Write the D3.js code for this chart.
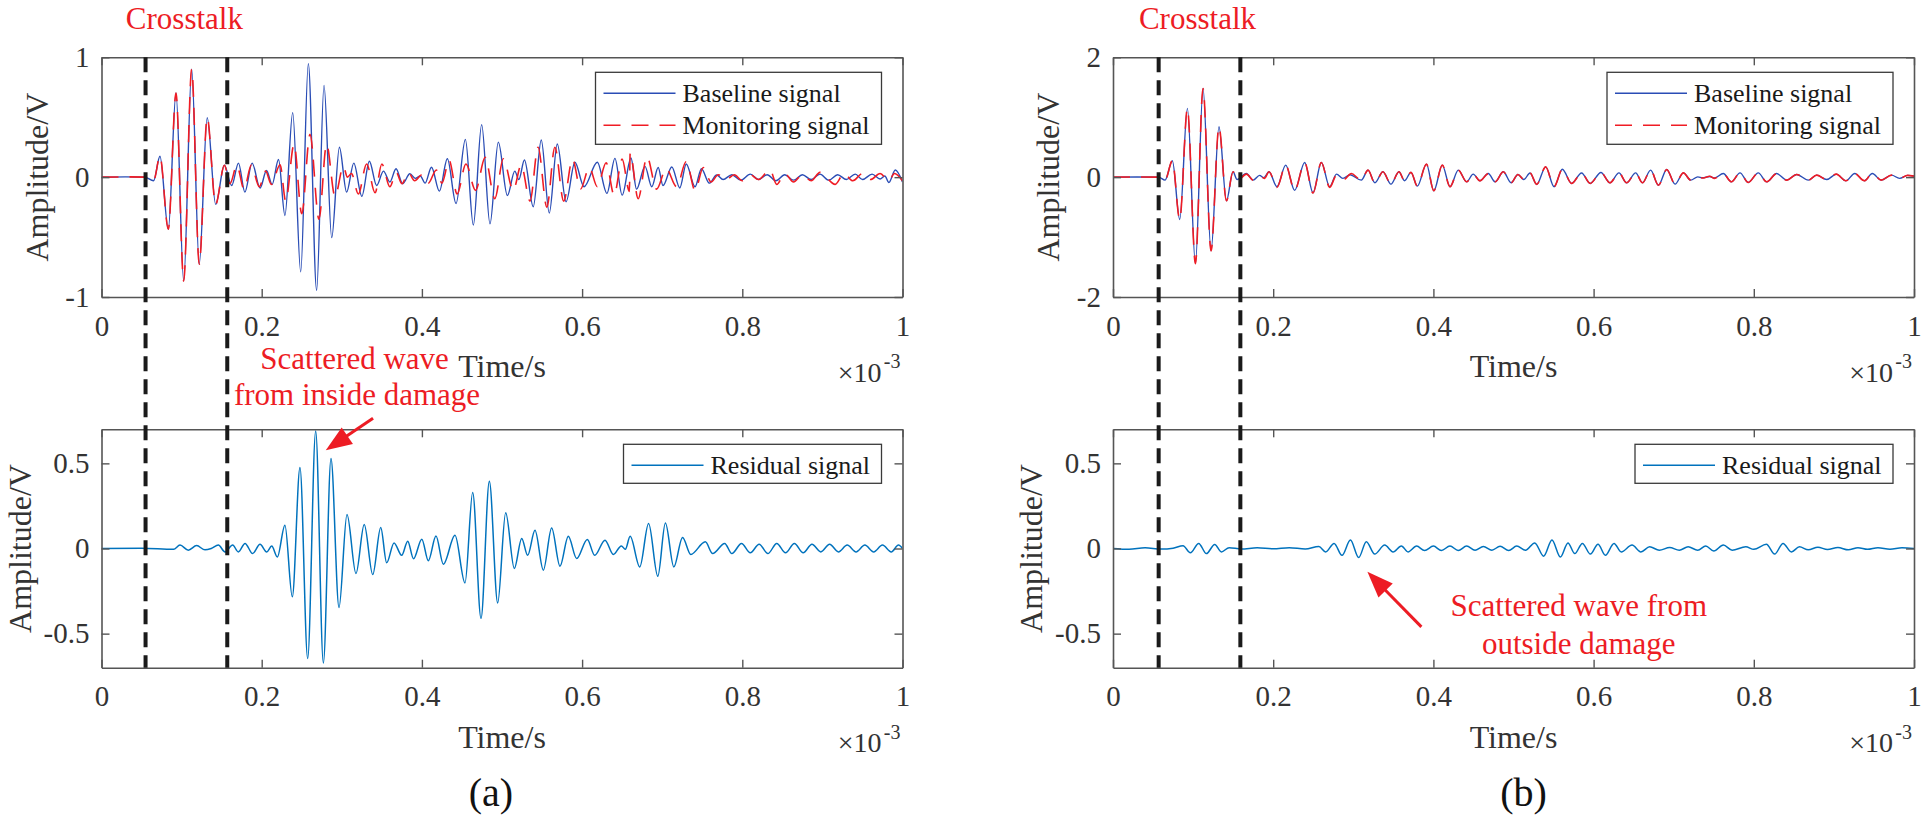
<!DOCTYPE html>
<html>
<head>
<meta charset="utf-8">
<script src="https://cdnjs.cloudflare.com/ajax/libs/d3/7.8.5/d3.min.js"></script>
<style>
html, body { margin: 0; padding: 0; background: #fff; }
svg { display: block; font-family: "Liberation Serif", "Times New Roman", serif; }
</style>
</head>
<body>
<svg id="fig" width="1923" height="817"></svg>
<script>

// time axis is in units of 1e-3 s, values in V (peaks and troughs)
var xTicks = [0, 0.2, 0.4, 0.6, 0.8, 1];
var yTicksA = [-1, 0, 1];
var yTicksB = [-2, 0, 2];
var yTicksRes = [-0.5, 0, 0.5];

var crosstalkA = [0.055, 0.157];
var crosstalkB = [0.057, 0.159];

var baselineA = [[0,0],[0.03,0.002],[0.054,0],[0.065,-0.03],[0.073,0.174],[0.0834,-0.435],[0.093,0.702],[0.1026,-0.867],
	[0.1126,0.90],[0.122,-0.727],[0.132,0.496],[0.1425,-0.227],[0.1534,0.099],[0.1625,-0.07],[0.171,0.117],[0.179,-0.125],
	[0.188,0.117],[0.198,-0.09],[0.206,0.055],[0.213,-0.061],[0.221,0.147],[0.229,-0.32],[0.2387,0.538],[0.2487,-0.79],
	[0.2582,0.947],[0.2686,-0.944],[0.2778,0.766],[0.2874,-0.505],[0.297,0.25],[0.306,-0.125],[0.315,0.117],[0.325,-0.16],
	[0.3344,0.133],[0.3435,-0.07],[0.352,0.05],[0.36,-0.04],[0.3677,0.07],[0.376,-0.055],[0.385,0.028],[0.392,-0.01],
	[0.398,0.01],[0.404,-0.05],[0.412,0.083],[0.4218,-0.117],[0.4318,0.153],[0.4426,-0.22],[0.4543,0.315],[0.4642,-0.40],
	[0.4746,0.438],[0.485,-0.39],[0.4954,0.292],[0.5067,-0.153],[0.516,0.05],[0.521,-0.02],[0.528,0.143],[0.539,-0.247],
	[0.549,0.31],[0.559,-0.30],[0.569,0.277],[0.58,-0.205],[0.591,0.124],[0.6024,-0.08],[0.619,0.124],[0.631,-0.135],
	[0.641,0.157],[0.65,-0.15],[0.661,0.16],[0.668,-0.1],[0.6785,0.09],[0.687,-0.08],[0.695,0.08],[0.701,-0.07],
	[0.712,0.085],[0.722,-0.09],[0.730,0.11],[0.741,-0.08],[0.749,0.07],[0.7588,-0.05],[0.768,0.018],[0.776,-0.02],
	[0.787,0.02],[0.798,-0.025],[0.81,0.025],[0.82,-0.02],[0.831,0.02],[0.842,-0.03],[0.853,0.02],[0.864,-0.025],
	[0.875,0.02],[0.886,-0.02],[0.897,0.025],[0.908,-0.025],[0.919,0.02],[0.93,-0.02],[0.941,0.025],[0.95,-0.02],
	[0.962,0.025],[0.972,-0.015],[0.978,0.01],[0.983,-0.045],[0.991,0.06],[1.0,-0.04]];

var monitorA = [[0,0],[0.03,0.002],[0.054,0],[0.065,-0.03],[0.073,0.174],[0.0834,-0.435],[0.093,0.702],[0.1026,-0.867],
	[0.1126,0.90],[0.122,-0.727],[0.132,0.496],[0.1425,-0.227],[0.1534,0.099],[0.1604,-0.055],[0.169,0.097],[0.178,-0.10],
	[0.187,0.1],[0.197,-0.08],[0.205,0.05],[0.212,-0.06],[0.223,0.103],[0.230,-0.2],[0.2404,0.274],[0.25,-0.305],
	[0.2603,0.357],[0.2715,-0.35],[0.281,0.274],[0.2915,-0.16],[0.302,0.09],[0.307,0.0],[0.312,0.03],[0.3207,-0.14],
	[0.331,0.11],[0.3415,-0.13],[0.35,0.11],[0.36,-0.08],[0.368,0.04],[0.375,-0.055],[0.383,0.04],[0.391,-0.03],
	[0.4,0.02],[0.408,-0.05],[0.418,0.06],[0.425,-0.05],[0.434,0.14],[0.444,-0.14],[0.455,0.11],[0.467,-0.11],
	[0.479,0.165],[0.491,-0.18],[0.5017,0.153],[0.514,-0.11],[0.524,0.1],[0.535,-0.2],[0.545,0.25],[0.556,-0.25],
	[0.566,0.25],[0.577,-0.2],[0.588,0.15],[0.598,-0.1],[0.609,0.08],[0.619,-0.08],[0.63,0.12],[0.64,-0.15],
	[0.65,0.15],[0.659,-0.12],[0.66,0.2],[0.67,-0.18],[0.681,0.17],[0.693,-0.1],[0.705,0.07],[0.718,-0.08],
	[0.73,0.13],[0.741,-0.11],[0.7513,0.08],[0.761,-0.04],[0.77,0.02],[0.78,-0.02],[0.79,0.02],[0.8,-0.03],
	[0.81,0.02],[0.82,-0.02],[0.8346,0.06],[0.843,-0.06],[0.853,0.03],[0.864,-0.04],[0.875,0.02],[0.886,-0.03],
	[0.897,0.04],[0.916,-0.06],[0.927,0.03],[0.938,-0.03],[0.95,0.03],[0.96,-0.02],[0.972,0.03],[0.983,-0.03],
	[0.99,0.03],[1.0,-0.03]];

var residualA = [[0,0],[0.05,0.002],[0.09,-0.005],[0.098,0.02],[0.1084,-0.01],[0.1188,0.017],[0.1292,-0.008],[0.137,0.0],
	[0.1459,0.02],[0.1542,-0.02],[0.1638,0.02],[0.1708,-0.02],[0.1792,0.03],[0.1887,-0.03],[0.1979,0.025],[0.2062,-0.02],
	[0.2125,0.014],[0.2195,-0.05],[0.229,0.137],[0.2382,-0.284],[0.2478,0.476],[0.2574,-0.646],[0.2674,0.69],[0.277,-0.672],
	[0.2865,0.528],[0.2965,-0.347],[0.3065,0.2],[0.3177,-0.147],[0.328,0.141],[0.3386,-0.153],[0.3486,0.123],[0.356,-0.084],
	[0.3652,0.033],[0.3748,-0.04],[0.3823,0.043],[0.3895,-0.06],[0.3999,0.055],[0.408,-0.072],[0.4176,0.074],[0.4268,-0.092],
	[0.4413,0.078],[0.4538,-0.202],[0.4634,0.329],[0.4738,-0.411],[0.4842,0.395],[0.4946,-0.32],[0.5046,0.21],[0.5154,-0.117],
	[0.5246,0.059],[0.532,-0.04],[0.5412,0.107],[0.5516,-0.127],[0.562,0.121],[0.5724,-0.104],[0.5828,0.072],[0.5932,-0.059],
	[0.6065,0.053],[0.6157,-0.04],[0.6286,0.049],[0.639,-0.035],[0.649,0.015],[0.654,-0.005],[0.66,0.072],[0.672,-0.108],
	[0.683,0.147],[0.6945,-0.163],[0.704,0.15],[0.7145,-0.108],[0.7254,0.065],[0.7357,-0.035],[0.7538,0.039],[0.763,-0.03],
	[0.778,0.03],[0.787,-0.03],[0.799,0.03],[0.81,-0.025],[0.821,0.025],[0.832,-0.03],[0.843,0.03],[0.854,-0.025],
	[0.865,0.03],[0.876,-0.025],[0.887,0.025],[0.898,-0.02],[0.909,0.025],[0.92,-0.02],[0.931,0.02],[0.942,-0.02],
	[0.953,0.02],[0.964,-0.02],[0.975,0.02],[0.986,-0.02],[0.995,0.02],[1.0,0.0]];

var baselineB = [[0,0],[0.03,0.003],[0.057,0],[0.065,-0.05],[0.0741,0.273],[0.0833,-0.707],[0.0929,1.147],[0.1029,-1.443],
	[0.1124,1.48],[0.1224,-1.23],[0.1323,0.84],[0.1416,-0.395],[0.1498,0.09],[0.155,-0.04],[0.1665,0.06],[0.175,-0.05],
	[0.183,0.03],[0.188,-0.01],[0.1948,0.09],[0.2047,-0.16],[0.2156,0.2],[0.2268,-0.22],[0.2393,0.245],[0.2497,-0.26],
	[0.2601,0.245],[0.2705,-0.16],[0.279,0.05],[0.287,-0.02],[0.296,0.04],[0.31,-0.05],[0.3184,0.117],[0.327,-0.094],
	[0.337,0.09],[0.347,-0.117],[0.357,0.09],[0.364,-0.06],[0.372,0.08],[0.38,-0.15],[0.3913,0.217],[0.4005,-0.228],
	[0.4111,0.2],[0.4207,-0.16],[0.4311,0.117],[0.4415,-0.078],[0.4497,0.05],[0.458,-0.06],[0.4685,0.06],[0.477,-0.078],
	[0.4873,0.09],[0.497,-0.094],[0.5055,0.045],[0.513,-0.04],[0.5206,0.07],[0.529,-0.12],[0.5402,0.172],[0.5506,-0.16],
	[0.561,0.133],[0.5725,-0.105],[0.585,0.07],[0.5957,-0.105],[0.6092,0.078],[0.6204,-0.094],[0.6317,0.072],[0.6412,-0.094],
	[0.6525,0.072],[0.661,-0.094],[0.6712,0.117],[0.681,-0.134],[0.6913,0.128],[0.7017,-0.117],[0.7121,0.072],[0.7213,-0.05],
	[0.73,0.005],[0.736,-0.01],[0.745,0.01],[0.751,-0.015],[0.7619,0.06],[0.772,-0.078],[0.7828,0.072],[0.793,-0.089],
	[0.8056,0.072],[0.816,-0.078],[0.8285,0.06],[0.841,-0.05],[0.8535,0.045],[0.868,-0.05],[0.8785,0.033],[0.891,-0.04],
	[0.903,0.05],[0.915,-0.06],[0.926,0.06],[0.938,-0.06],[0.948,0.06],[0.959,-0.05],[0.972,0.033],[0.982,-0.02],
	[0.992,0.03],[1.0,0.017]];

var monitorB = [[0,0],[0.03,0.003],[0.057,0],[0.065,-0.05],[0.0741,0.273],[0.0833,-0.707],[0.0929,1.147],[0.1029,-1.443],
	[0.1124,1.48],[0.1224,-1.23],[0.1323,0.84],[0.1416,-0.395],[0.1498,0.09],[0.156,-0.05],[0.1665,0.05],[0.176,-0.06],
	[0.184,0.01],[0.189,-0.02],[0.1948,0.09],[0.2047,-0.17],[0.2156,0.2],[0.2268,-0.22],[0.2393,0.245],[0.2497,-0.265],
	[0.2601,0.245],[0.2705,-0.17],[0.279,0.03],[0.288,-0.04],[0.2976,0.06],[0.306,-0.02],[0.31,-0.05],[0.3184,0.117],
	[0.327,-0.1],[0.337,0.09],[0.347,-0.117],[0.357,0.09],[0.364,-0.06],[0.372,0.08],[0.38,-0.15],[0.3913,0.217],
	[0.4005,-0.228],[0.4111,0.2],[0.4207,-0.16],[0.4311,0.117],[0.4415,-0.078],[0.4497,0.05],[0.458,-0.06],[0.4685,0.06],
	[0.477,-0.078],[0.4873,0.09],[0.497,-0.094],[0.5055,0.045],[0.513,-0.04],[0.5206,0.07],[0.529,-0.12],[0.5402,0.172],
	[0.5506,-0.16],[0.561,0.133],[0.5725,-0.105],[0.585,0.07],[0.5957,-0.105],[0.6092,0.078],[0.6204,-0.094],[0.6317,0.072],
	[0.6412,-0.094],[0.6525,0.072],[0.661,-0.094],[0.6712,0.117],[0.681,-0.134],[0.6913,0.128],[0.7017,-0.117],[0.7121,0.072],
	[0.7213,-0.05],[0.73,0.0],[0.736,-0.015],[0.745,0.015],[0.751,-0.02],[0.7619,0.06],[0.772,-0.078],[0.7828,0.072],
	[0.793,-0.089],[0.8056,0.072],[0.816,-0.078],[0.8285,0.06],[0.841,-0.05],[0.8535,0.045],[0.868,-0.05],[0.8785,0.033],
	[0.891,-0.04],[0.903,0.05],[0.915,-0.06],[0.926,0.06],[0.938,-0.06],[0.948,0.06],[0.959,-0.05],[0.972,0.033],
	[0.982,-0.02],[0.992,0.03],[1.0,0.017]];

var residualB = [[0,0],[0.02,-0.005],[0.04,0.004],[0.06,-0.003],[0.075,0.002],[0.0874,0.016],[0.0966,-0.025],[0.107,0.03],
	[0.1166,-0.03],[0.127,0.024],[0.1353,-0.02],[0.145,0.005],[0.16,-0.003],[0.18,0.004],[0.2,-0.002],[0.22,0.005],
	[0.24,-0.003],[0.257,0.012],[0.2655,-0.02],[0.276,0.03],[0.2859,-0.04],[0.2964,0.05],[0.3067,-0.053],[0.3163,0.04],
	[0.3267,-0.033],[0.3392,0.02],[0.3496,-0.02],[0.36,0.015],[0.3683,-0.02],[0.379,0.014],[0.389,-0.012],[0.4,0.014],
	[0.41,-0.012],[0.4207,0.015],[0.431,-0.012],[0.4415,0.014],[0.452,-0.01],[0.4624,0.012],[0.473,-0.01],[0.4832,0.013],
	[0.494,-0.012],[0.504,0.014],[0.515,-0.01],[0.5265,0.033],[0.5377,-0.045],[0.548,0.05],[0.5585,-0.05],[0.568,0.033],
	[0.5765,-0.03],[0.586,0.03],[0.596,-0.033],[0.6055,0.025],[0.6147,-0.04],[0.6255,0.03],[0.6345,-0.02],[0.648,0.02],
	[0.659,-0.02],[0.67,0.01],[0.682,-0.01],[0.695,0.006],[0.707,-0.01],[0.718,0.01],[0.73,-0.01],[0.74,0.015],
	[0.75,-0.015],[0.762,0.02],[0.773,-0.01],[0.79,0.01],[0.8,-0.005],[0.8157,0.025],[0.826,-0.033],[0.8365,0.03],
	[0.8469,-0.02],[0.857,0.01],[0.868,-0.008],[0.88,0.008],[0.892,-0.006],[0.905,0.006],[0.918,-0.008],[0.93,0.005],
	[0.942,-0.005],[0.955,0.005],[0.97,-0.004],[0.985,0.005],[1.0,0.0]];

var baseColor = '#2a4db5', monColor = '#f01c24', resColor = '#0072bd';
var axisColor = '#555555', textColor = '#333333', red = '#ed1c24';

var svg = d3.select('#fig');
var plotW = 801;
var colLeft = [101.5, 1113];
var rowTop = [57.3, 429.3];
var rowH = [239.7, 238.4];

var line = function(x, y) {
	return d3.line().x(function(d) { return x(d[0]); }).y(function(d) { return y(d[1]); }).curve(d3.curveMonotoneX);
};

function styleAxis(g) {
	g.attr('font-family', null).attr('font-size', null);
	g.select('.domain').attr('stroke', axisColor).attr('stroke-width', 1.6);
	g.selectAll('.tick line').attr('stroke', axisColor).attr('stroke-width', 1.4);
	g.selectAll('.tick text').attr('fill', textColor).style('font-size', '29px');
}

function drawPanel(p) {
	var x = d3.scaleLinear().domain([0, 1]).range([p.left, p.left + plotW]);
	var y = d3.scaleLinear().domain(p.yDomain).range([p.top + p.h, p.top]);
	var g = svg.append('g');

	g.append('clipPath').attr('id', 'clip-' + p.id)
		.append('rect').attr('x', p.left).attr('y', p.top).attr('width', plotW).attr('height', p.h);

	var lines = g.append('g').attr('clip-path', 'url(#clip-' + p.id + ')');
	p.series.forEach(function(s) {
		lines.append('path').datum(s.data)
			.attr('d', line(x, y))
			.attr('fill', 'none')
			.attr('stroke', s.color)
			.attr('stroke-width', s.width)
			.attr('stroke-dasharray', s.dash || null);
	});

	var fmt = function(d) { return String(d); };
	g.append('g').attr('transform', 'translate(0,' + (p.top + p.h) + ')')
		.call(d3.axisBottom(x).tickValues(xTicks).tickFormat(fmt).tickSizeInner(-8).tickSizeOuter(0).tickPadding(18))
		.call(styleAxis);
	g.append('g').attr('transform', 'translate(0,' + p.top + ')')
		.call(d3.axisTop(x).tickValues(xTicks).tickFormat('').tickSizeInner(-8).tickSizeOuter(0))
		.call(styleAxis);
	g.append('g').attr('transform', 'translate(' + p.left + ',0)')
		.call(d3.axisLeft(y).tickValues(p.yTicks).tickFormat(fmt).tickSizeInner(-8).tickSizeOuter(0).tickPadding(12))
		.call(styleAxis);
	g.append('g').attr('transform', 'translate(' + (p.left + plotW) + ',0)')
		.call(d3.axisRight(y).tickValues(p.yTicks).tickFormat('').tickSizeInner(-8).tickSizeOuter(0))
		.call(styleAxis);

	// axis titles (ylabel sits further out when the tick labels are wider)
	g.append('text').attr('x', p.left + plotW / 2).attr('y', p.top + p.h + 80)
		.attr('text-anchor', 'middle').attr('fill', textColor).style('font-size', '32px').text('Time/s');
	g.append('text').attr('transform', 'translate(' + (p.left - p.ylabelOff) + ',' + (p.top + p.h / 2) + ') rotate(-90)')
		.attr('text-anchor', 'middle').attr('fill', textColor).style('font-size', '32px').text('Amplitude/V');
	g.append('text').attr('x', p.left + plotW - 21).attr('y', p.top + p.h + 84.5)
		.attr('text-anchor', 'end').attr('fill', textColor).style('font-size', '28px').text('\u00d710');
	g.append('text').attr('x', p.left + plotW - 2).attr('y', p.top + p.h + 71)
		.attr('text-anchor', 'end').attr('fill', textColor).style('font-size', '20px').text('-3');

	// legend
	var lw = p.legend.length > 1 ? 286 : 258;
	var lh = p.legend.length > 1 ? 72 : 39;
	var lx = p.left + plotW - 21 - lw, ly = p.top + 15;
	var leg = g.append('g');
	leg.append('rect').attr('x', lx).attr('y', ly).attr('width', lw).attr('height', lh)
		.attr('fill', '#fff').attr('stroke', '#3a3a3a').attr('stroke-width', 1.3);
	p.legend.forEach(function(s, i) {
		var cy = ly + 21 + i * 32;
		leg.append('line').attr('x1', lx + 8).attr('x2', lx + 80).attr('y1', cy).attr('y2', cy)
			.attr('stroke', s.color).attr('stroke-width', s.width).attr('stroke-dasharray', s.dash || null);
		leg.append('text').attr('x', lx + 87).attr('y', cy).attr('dy', '0.34em')
			.attr('fill', '#1a1a1a').style('font-size', '26px').text(s.name);
	});

	return { x: x, y: y };
}

function arrow(from, to) {
	var dx = to[0] - from[0], dy = to[1] - from[1];
	var len = Math.sqrt(dx * dx + dy * dy), ux = dx / len, uy = dy / len;
	var hl = 26, hw = 10;
	var bx = to[0] - ux * hl, by = to[1] - uy * hl;
	svg.append('line').attr('x1', from[0]).attr('y1', from[1]).attr('x2', bx + ux * 2).attr('y2', by + uy * 2)
		.attr('stroke', red).attr('stroke-width', 3);
	svg.append('path')
		.attr('d', 'M' + to[0] + ',' + to[1] + 'L' + (bx - uy * hw) + ',' + (by + ux * hw) + 'L' + (bx + uy * hw) + ',' + (by - ux * hw) + 'Z')
		.attr('fill', red);
}

var legTop = [
	{ name: 'Baseline signal', color: baseColor, width: 1.4 },
	{ name: 'Monitoring signal', color: monColor, width: 1.6, dash: '17,11' }
];
var legRes = [{ name: 'Residual signal', color: resColor, width: 1.5 }];

var sets = [
	{ base: baselineA, mon: monitorA, res: residualA, ticks: yTicksA, dom: [-1, 1], cross: crosstalkA, tag: '(a)', tagX: -11 },
	{ base: baselineB, mon: monitorB, res: residualB, ticks: yTicksB, dom: [-2, 2], cross: crosstalkB, tag: '(b)', tagX: 10 }
];

var scales = sets.map(function(s, c) {
	var top = drawPanel({ id: 'top' + c, left: colLeft[c], top: rowTop[0], h: rowH[0], yDomain: s.dom, yTicks: s.ticks,
		ylabelOff: 54,
		series: [
			{ data: s.base, color: baseColor, width: 1.4 },
			{ data: s.mon, color: monColor, width: 1.6, dash: '17,11' }
		], legend: legTop });
	var bot = drawPanel({ id: 'bot' + c, left: colLeft[c], top: rowTop[1], h: rowH[1], yDomain: [-0.7, 0.7], yTicks: yTicksRes,
		ylabelOff: 71,
		series: [{ data: s.res, color: resColor, width: 1.5 }], legend: legRes });

	// crosstalk window
	s.cross.forEach(function(t) {
		svg.append('line').attr('x1', top.x(t)).attr('x2', top.x(t))
			.attr('y1', rowTop[0]).attr('y2', rowTop[1] + rowH[1])
			.attr('stroke', '#1a1a1a').attr('stroke-width', 4).attr('stroke-dasharray', '15,8');
	});
	svg.append('text').attr('x', top.x((s.cross[0] + s.cross[1]) / 2) - 2).attr('y', 28.5)
		.attr('text-anchor', 'middle').attr('fill', red).style('font-size', '31px').text('Crosstalk');

	svg.append('text').attr('x', colLeft[c] + plotW / 2 + s.tagX).attr('y', 806)
		.attr('text-anchor', 'middle').attr('fill', '#111').style('font-size', '40px').text(s.tag);
	return { top: top, bot: bot };
});

// annotations, placed in the residual panels' data coordinates
var ba = scales[0].bot, bb = scales[1].bot;
svg.append('text').attr('x', ba.x(0.316)).attr('y', ba.y(1.052)).attr('text-anchor', 'middle')
	.attr('fill', red).style('font-size', '31px').text('Scattered wave');
svg.append('text').attr('x', ba.x(0.319)).attr('y', ba.y(0.843)).attr('text-anchor', 'middle')
	.attr('fill', red).style('font-size', '31px').text('from inside damage');
arrow([ba.x(0.339), ba.y(0.765)], [ba.x(0.28), ba.y(0.577)]);

svg.append('text').attr('x', bb.x(0.5815)).attr('y', bb.y(-0.3975)).attr('text-anchor', 'middle')
	.attr('fill', red).style('font-size', '31px').text('Scattered wave from');
svg.append('text').attr('x', bb.x(0.5815)).attr('y', bb.y(-0.617)).attr('text-anchor', 'middle')
	.attr('fill', red).style('font-size', '31px').text('outside damage');
arrow([bb.x(0.385), bb.y(-0.46)], [bb.x(0.3176), bb.y(-0.137)]);

</script>
</body>
</html>
